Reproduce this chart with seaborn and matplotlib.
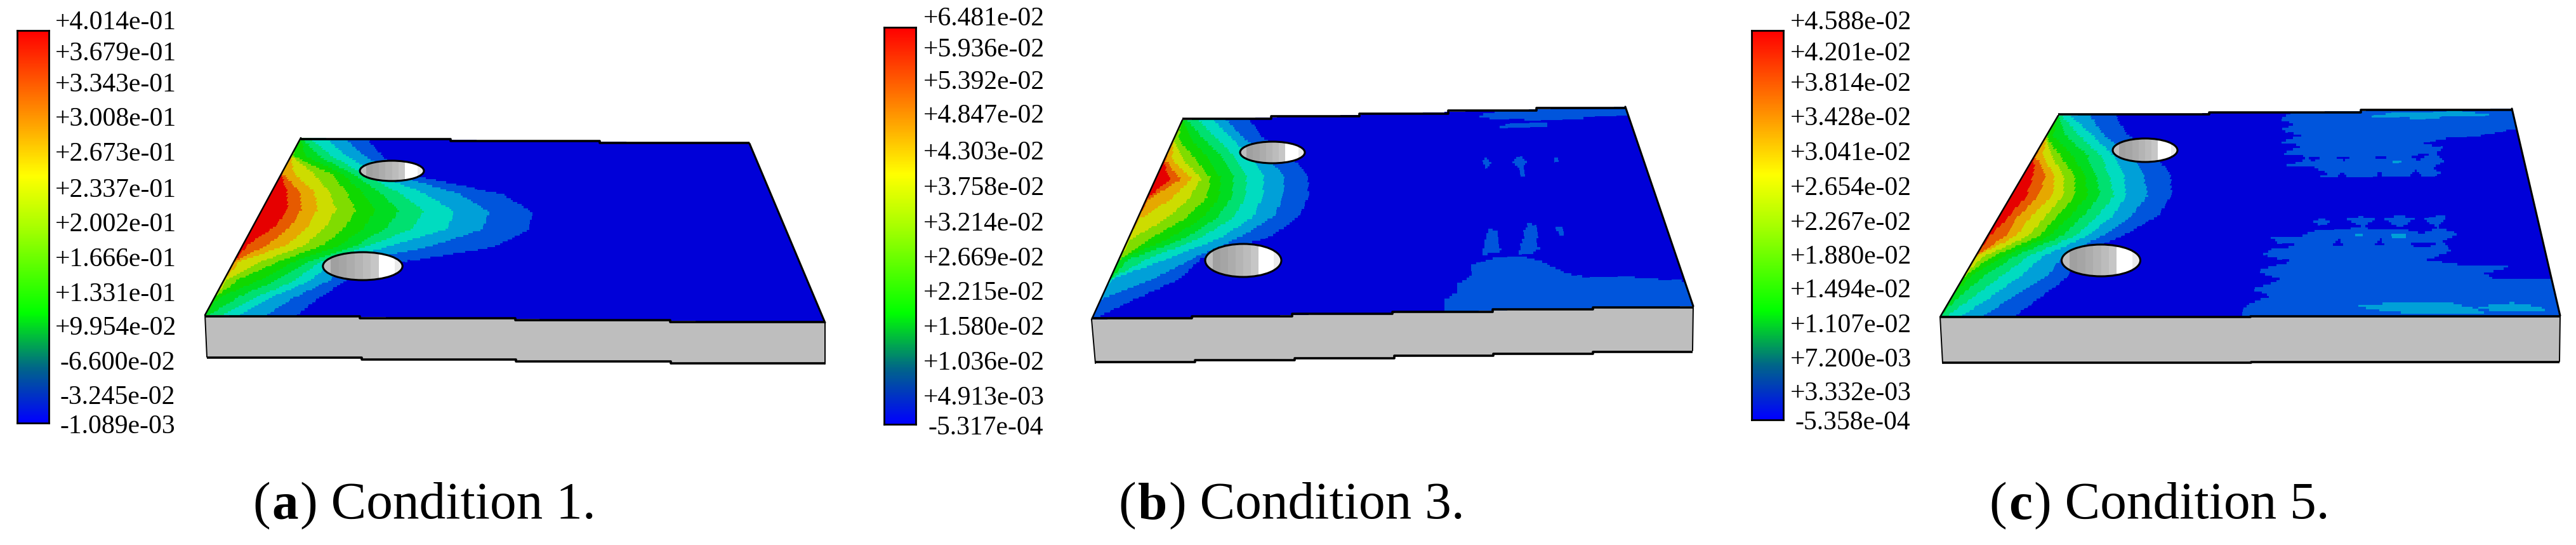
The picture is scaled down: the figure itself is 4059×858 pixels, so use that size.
import numpy as np
import matplotlib
matplotlib.use("Agg")
import matplotlib.pyplot as plt
from matplotlib.colors import ListedColormap, LinearSegmentedColormap
from matplotlib.patches import Ellipse
from matplotlib.path import Path
import seaborn as sns

W, H = 4059, 858

# legend tick labels
labels_a = ["+4.014e-01", "+3.679e-01", "+3.343e-01", "+3.008e-01", "+2.673e-01", "+2.337e-01", "+2.002e-01",
            "+1.666e-01", "+1.331e-01", "+9.954e-02", "-6.600e-02", "-3.245e-02", "-1.089e-03"]
labels_b = ["+6.481e-02", "+5.936e-02", "+5.392e-02", "+4.847e-02", "+4.303e-02", "+3.758e-02", "+3.214e-02",
            "+2.669e-02", "+2.215e-02", "+1.580e-02", "+1.036e-02", "+4.913e-03", "-5.317e-04"]
labels_c = ["+4.588e-02", "+4.201e-02", "+3.814e-02", "+3.428e-02", "+3.041e-02", "+2.654e-02", "+2.267e-02",
            "+1.880e-02", "+1.494e-02", "+1.107e-02", "+7.200e-03", "+3.332e-03", "-5.358e-04"]
captions = [("a", ") Condition 1."), ("b", ") Condition 3."), ("c", ") Condition 5.")]

# band colours, lowest to highest
band_colors = ["#0000D8", "#0055DC", "#00A0D8", "#00DCC0", "#00E070", "#00DC20",
               "#10D800", "#80DC00", "#CDDC00", "#E6A800", "#E65A00", "#E60000"]

# how far each contour reaches in from the loaded edge (fraction of plate length),
# one row per contour, one column per station going back to front
stations = [0, .1, .2, .3, .4, .5, .6, .7, .8, .9, 1]
reach_a = [
    [.148, .198, .267, .460, .523, .516, .454, .276, .206, .173, .146],
    [.099, .160, .235, .373, .439, .430, .339, .199, .180, .129, .099],
    [.057, .121, .199, .303, .371, .365, .267, .173, .147, .093, .056],
    [.021, .088, .172, .255, .312, .299, .228, .150, .120, .067, .028],
    [.004, .060, .149, .216, .265, .250, .204, .126, .091, .038, .007],
    [0, .031, .127, .181, .219, .209, .176, .103, .061, .008, 0],
    [0, .003, .104, .150, .181, .173, .145, .076, .025, 0, 0],
    [0, 0, .068, .115, .143, .136, .113, .044, .005, 0, 0],
    [0, 0, .027, .085, .107, .103, .081, .011, 0, 0, 0],
    [0, 0, .002, .056, .077, .070, .046, 0, 0, 0, 0],
    [0, 0, 0, .030, .050, .042, .010, 0, 0, 0, 0],
]
reach_b = [
    [.150, .195, .268, .312, .322, .312, .268, .151, .126, .062, .002],
    [.098, .154, .219, .263, .272, .263, .210, .136, .078, .001, 0],
    [.069, .128, .183, .222, .231, .223, .174, .090, .003, 0, 0],
    [.036, .096, .152, .187, .197, .186, .135, .052, 0, 0, 0],
    [.012, .068, .125, .161, .170, .154, .107, .018, 0, 0, 0],
    [0, .041, .094, .135, .145, .126, .076, .002, 0, 0, 0],
    [0, .013, .067, .114, .120, .093, .040, 0, 0, 0, 0],
    [0, 0, .041, .094, .086, .057, .005, 0, 0, 0, 0],
    [0, 0, .018, .075, .049, .004, 0, 0, 0, 0, 0],
    [0, 0, .003, .053, .005, 0, 0, 0, 0, 0, 0],
    [0, 0, 0, .030, 0, 0, 0, 0, 0, 0, 0],
]
reach_c = [
    [.126, .174, .248, .295, .309, .299, .247, .171, .180, .149, .119],
    [.070, .124, .199, .241, .264, .248, .209, .153, .143, .103, .067],
    [.028, .099, .162, .201, .223, .213, .182, .119, .097, .065, .034],
    [.009, .070, .136, .173, .199, .185, .159, .094, .064, .036, .010],
    [0, .043, .109, .146, .172, .158, .136, .068, .035, .012, 0],
    [0, .016, .079, .125, .148, .134, .113, .049, .012, 0, 0],
    [0, 0, .053, .104, .124, .110, .094, .030, .001, 0, 0],
    [0, 0, .036, .083, .101, .087, .075, .014, 0, 0, 0],
    [0, 0, .018, .064, .081, .061, .052, .001, 0, 0, 0],
    [0, 0, .003, .047, .054, .037, .033, 0, 0, 0, 0],
    [0, 0, 0, .022, .030, .020, .004, 0, 0, 0, 0],
]

# low level patches on the far side, (band, outline in plate fractions), painted in order
patches_a = []
patches_b = [
    (1, [(.586, 1), (.587, .94), (.607, .908), (.608, .862), (.634, .825), (.635, .769), (.683, .732), (.725, .729),
         (.764, .764), (.798, .82), (.834, .844), (.885, .841), (1, .873), (1, 1)]),
    (1, [(.655, .718), (.666, .624), (.673, .586), (.685, .601), (.686, .688), (.691, .695), (.685, .714)]),
    (1, [(.721, .723), (.733, .638), (.734, .606), (.748, .564), (.761, .586), (.757, .682), (.761, .692), (.744, .723)]),
    (1, [(.795, .585), (.807, .59), (.81, .64), (.80, .635)]),
    (1, [(.667, .258), (.676, .235), (.686, .258), (.676, .285)]),
    (1, [(.73, .258), (.746, .23), (.763, .258), (.75, .29), (.75, .335), (.743, .335), (.743, .29)]),
    (1, [(.815, .255), (.822, .235), (.83, .255), (.822, .275)]),
    (1, [(.665, .022), (.72, 0), (1, 0), (1, .048), (.90, .05), (.81, .052), (.71, .047), (.68, .035)]),
    (1, [(.709, .085), (.733, .065), (.818, .065), (.818, .09), (.709, .09)]),
]
patches_c = [
    (1, [(.52, 0), (1, 0), (1, .096), (.929, .127), (.856, .136), (.794, .164), (.84, .179), (.824, .213), (.839, .25),
         (.815, .281), (.834, .312), (.793, .327), (.718, .327), (.65, .327), (.587, .321), (.607, .302), (.571, .265),
         (.513, .265), (.552, .244), (.561, .219), (.509, .204), (.548, .167), (.499, .148), (.542, .117), (.497, .086),
         (.525, .059), (.489, .034)]),
    (0, [(.563, .219), (.586, .228), (.574, .25)]),
    (0, [(.621, .225), (.65, .225), (.637, .242)]),
    (0, [(.697, .22), (.722, .225), (.709, .24)]),
    (0, [(.768, .219), (.814, .213), (.787, .244)]),
    (0, [(.62, .327), (.645, .327), (.635, .29)]),
    (0, [(.70, .327), (.718, .327), (.709, .296)]),
    (0, [(.768, .327), (.793, .327), (.781, .29)]),
    (2, [(.665, .25), (.678, .25), (.678, .26), (.665, .26)]),
    (2, [(.734, .245), (.753, .245), (.753, .26), (.734, .26)]),
    (2, [(.688, .024), (.742, .012), (.849, .01), (.863, 0), (.877, 0), (.953, .03), (.827, .04), (.80, .04), (.70, .036)]),
    (1, [(.486, 1), (.486, .96), (.505, .923), (.53, .901), (.496, .867), (.542, .821), (.497, .778), (.556, .731),
         (.502, .698), (.522, .667), (.577, .654), (.532, .645), (.511, .614), (.566, .608), (.596, .577), (.651, .574),
         (.673, .566), (.717, .583), (.745, .574), (.786, .599), (.816, .574), (.851, .599), (.821, .639), (.836, .682),
         (.792, .728), (.85, .753), (.937, .762), (.888, .793), (.902, .821), (.996, .824), (1, .824), (1, 1)]),
    (1, [(.584, .537), (.602, .522), (.62, .537), (.604, .562)]),
    (1, [(.649, .528), (.675, .515), (.701, .528), (.678, .568)]),
    (1, [(.717, .528), (.744, .512), (.775, .522), (.747, .574)]),
    (1, [(.787, .522), (.834, .512), (.815, .574)]),
    (0, [(.625, .654), (.644, .654), (.637, .623)]),
    (0, [(.70, .654), (.718, .654), (.71, .623)]),
    (0, [(.763, .639), (.816, .645), (.792, .667), (.77, .667)]),
    (2, [(.667, .603), (.68, .603), (.68, .615), (.667, .615)]),
    (2, [(.73, .6), (.755, .6), (.755, .62), (.73, .62)]),
    (2, [(.671, .948), (.716, .938), (.828, .938), (.858, .96), (.89, .994), (.83, .985), (.75, .985), (.699, .969)]),
    (2, [(.868, .955), (.906, .944), (.926, .938), (.968, .954), (.982, .975), (.936, .975), (.891, .975), (.87, .965)]),
]

# grey shades across the hole walls, left to right
hole_shades = [190, 160, 165, 172, 180, 188, 198, 255, 255, 235]

panels = [
    dict(labels=labels_a, reach=reach_a, patches=patches_a, cap=captions[0],
         bar=(27, 48, 77, 666), label_x=87,
         label_y=[36, 85, 134, 188, 243, 300, 354, 409, 464, 517, 572, 626, 672],
         plate=[(474, 217), (1181, 226), (1300, 508), (323, 496)], under=[(326, 562), (1300, 573)],
         holes=[(617.5, 269, 50.5, 16), (571.5, 419, 62.7, 22)], cap_x=398, steps=(3, 4, 4)),
    dict(labels=labels_b, reach=reach_b, patches=patches_b, cap=captions[1],
         bar=(1393, 43, 1443, 668), label_x=1455,
         label_y=[30, 79, 130, 183, 241, 297, 353, 408, 462, 517, 572, 627, 674],
         plate=[(1863, 189), (2561, 168), (2668, 482), (1720, 503)], under=[(1726, 572), (2667, 552)],
         holes=[(2005, 240, 51, 17), (1959, 410, 60, 26)], cap_x=1762, steps=(5, 6, 6)),
    dict(labels=labels_c, reach=reach_c, patches=patches_c, cap=captions[2],
         bar=(2760, 48, 2810, 661), label_x=2821,
         label_y=[36, 85, 133, 187, 242, 297, 352, 405, 458, 513, 567, 620, 666],
         plate=[(3243, 182), (3958, 171), (4034, 497), (3057, 499)], under=[(3061, 572), (4033, 569)],
         holes=[(3380, 236.5, 51, 18.5), (3310.5, 410, 62, 25)], cap_x=3134, steps=(3, 2, 2)),
]

sns.set_theme(style="white")
plt.rcParams["font.family"] = ["Liberation Serif", "DejaVu Serif"]

bar_cmap = LinearSegmentedColormap.from_list("bar", [
    (0, "#0000FF"), (.14, "#006688"), (.28, "#00FF00"), (.5, "#A8FF00"), (.63, "#FFFF00"), (.8, "#FF8800"), (1, "#FF0000")])
band_cmap = ListedColormap(band_colors)

fig = plt.figure(figsize=(W / 100, H / 100), dpi=100)
ax = fig.add_axes([0, 0, 1, 1])
ax.set_xlim(0, W)
ax.set_ylim(H, 0)
ax.axis("off")


def plate_xy(corners, u, v):
    tl, tr, br, bl = [np.array(c, dtype=float) for c in corners]
    top_x = tl[0] + (tr[0] - tl[0]) * u
    top_y = tl[1] + (tr[1] - tl[1]) * u
    bot_x = bl[0] + (br[0] - bl[0]) * u
    bot_y = bl[1] + (br[1] - bl[1]) * u
    return top_x + (bot_x - top_x) * v, top_y + (bot_y - top_y) * v


def stepped_edge(p, q, n):
    xb = np.linspace(p[0], q[0], n + 1)
    yb = np.linspace(p[1], q[1], n + 1)
    xs, ys = [], []
    for i in range(n):
        ym = (yb[i] + yb[i + 1]) / 2
        xs += [xb[i], xb[i + 1]]
        ys += [ym, ym]
    ax.plot(xs, ys, color="black", lw=2.6, solid_capstyle="butt", zorder=6)


for p in panels:
    # legend strip
    x0, y0, x1, y1 = p["bar"]
    cax = fig.add_axes([x0 / W, 1 - y1 / H, (x1 - x0) / W, (y1 - y0) / H])
    sns.heatmap(np.linspace(1, 0, 256).reshape(-1, 1), ax=cax, cmap=bar_cmap, vmin=0, vmax=1, cbar=False,
                xticklabels=False, yticklabels=False)
    for s in cax.spines.values():
        s.set_visible(True)
        s.set_color("black")
        s.set_linewidth(2)
    for lab, ly in zip(p["labels"], p["label_y"]):
        # the minus labels sit a bit further in
        lx = p["label_x"] + (7 if lab.startswith("-") else 0)
        ax.text(lx, ly, lab, fontsize=30, color="black", va="center", ha="left")

    # side of the plate
    tl, tr, br, bl = p["plate"]
    ul, ur = p["under"]
    ax.fill([bl[0], br[0], ur[0], ul[0]], [bl[1], br[1], ur[1], ul[1]], color="#BEBEBE", lw=0, zorder=1)

    # contour field, cell by cell
    nu, nv = 230, 90
    ue = np.linspace(0, 1, nu + 1)
    ve = np.linspace(0, 1, nv + 1)
    uu, vv = np.meshgrid(ue, ve)
    X, Y = plate_xy(p["plate"], uu, vv)
    uc, vc = np.meshgrid((ue[:-1] + ue[1:]) / 2, (ve[:-1] + ve[1:]) / 2)
    field = np.zeros(uc.shape)
    for k, row in enumerate(p["reach"]):
        curve = np.interp(vc, stations, row)
        field[(uc < curve) & (curve > 0)] = k + 1
    pts = np.column_stack([uc.ravel(), vc.ravel()])
    for band, outline in p["patches"]:
        inside = Path(outline).contains_points(pts).reshape(uc.shape)
        field[inside & (field < 2)] = band
    ax.pcolormesh(X, Y, field, cmap=band_cmap, vmin=-.5, vmax=11.5, shading="flat", antialiased=False, linewidth=0,
                  zorder=2)

    # holes
    for hx, hy, rx, ry in p["holes"]:
        xs = np.linspace(hx - rx, hx + rx, len(hole_shades) + 1)
        ys = [hy - ry, hy + ry]
        m = ax.pcolormesh(xs, ys, np.array(hole_shades).reshape(1, -1), cmap="gray", vmin=0, vmax=255, zorder=3)
        clip = Ellipse((hx, hy), 2 * rx, 2 * ry, fc="none", ec="none", transform=ax.transData)
        ax.add_patch(clip)
        m.set_clip_path(clip)
        ax.add_patch(Ellipse((hx, hy), 2 * rx, 2 * ry, fc="none", ec="black", lw=2.2, zorder=4))

    # outlines
    stepped_edge(tl, tr, p["steps"][0])
    stepped_edge(bl, br, p["steps"][1])
    stepped_edge(ul, ur, p["steps"][2])
    ax.plot([tl[0], bl[0]], [tl[1], bl[1]], color="black", lw=1.8, zorder=5)
    ax.plot([tr[0], br[0]], [tr[1], br[1]], color="black", lw=2.2, zorder=5)
    ax.plot([bl[0], ul[0]], [bl[1], ul[1]], color="black", lw=1.4, zorder=5)
    ax.plot([br[0], ur[0]], [br[1], ur[1]], color="black", lw=1.4, zorder=5)

    # caption, bold letter inside the plain text
    renderer = fig.canvas.get_renderer()
    cx = p["cap_x"]
    for piece, weight in [("(", "normal"), (p["cap"][0], "bold"), (p["cap"][1], "normal")]:
        t = ax.text(cx, 797, piece, fontsize=60, fontweight=weight, color="black", va="center", ha="left")
        cx = t.get_window_extent(renderer).x1 + 3

fig.savefig("out.png", dpi=100)
